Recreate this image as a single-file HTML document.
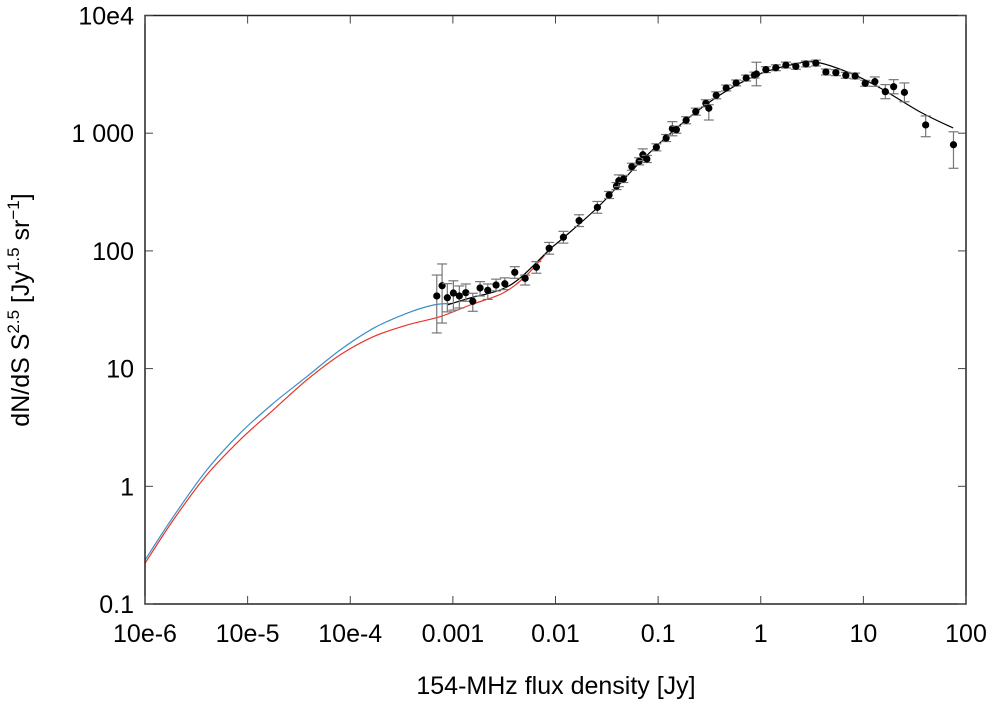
<!DOCTYPE html>
<html><head><meta charset="utf-8"><style>
html,body{margin:0;padding:0;background:#fff;}
svg{display:block;font-family:"Liberation Sans",Arial,sans-serif;}
</style></head><body>
<svg id="chart" width="993" height="703" viewBox="0 0 993 703" xmlns="http://www.w3.org/2000/svg">
<g id="curves"></g>
<g id="points"></g>
<g id="axes"></g>
<text x="556" y="694" font-size="25" text-anchor="middle">154-MHz flux density [Jy]</text>
<text transform="translate(29,310) rotate(-90)" font-size="25" text-anchor="middle">dN/dS S<tspan font-size="17" dy="-10">2.5</tspan><tspan dy="10"> [Jy</tspan><tspan font-size="17" dy="-10">1.5</tspan><tspan dy="10"> sr</tspan><tspan font-size="17" dy="-10">−1</tspan><tspan dy="10">]</tspan></text>
</svg>
<script>
// x values are log10(flux density / Jy), y values are log10(dN/dS S^2.5)
const xTickVals = [-6,-5,-4,-3,-2,-1,0,1,2];
const xTickLabels = ["10e-6","10e-5","10e-4","0.001","0.01","0.1","1","10","100"];
const yTickVals = [-1,0,1,2,3,4];
const yTickLabels = ["0.1","1","10","100","1 000","10e4"];

const blueX = [-6.000,-5.724,-5.399,-5.074,-4.750,-4.424,-4.099,-3.775,-3.449,-3.190,-3.011];
const blueY = [-0.626,-0.258,0.138,0.450,0.705,0.931,1.158,1.342,1.470,1.540,1.555];
const redX = [-6.000,-5.724,-5.399,-5.074,-4.750,-4.424,-4.099,-3.775,-3.449,-3.125,-2.832,-2.511,-2.280,-2.062];
const redY = [-0.654,-0.286,0.096,0.394,0.649,0.903,1.116,1.271,1.370,1.441,1.540,1.642,1.795,2.008];
const fitX = [-3.057,-2.832,-2.540,-2.345,-2.062,-1.925,-1.565,-1.175,-0.786,-0.396,-0.035,0.286,0.530,0.871,1.164,1.554,1.875];
const fitY = [1.540,1.600,1.668,1.770,2.008,2.110,2.390,2.755,3.070,3.325,3.494,3.579,3.605,3.511,3.384,3.180,3.044];

const ptX = [-3.157,-3.105,-3.054,-2.995,-2.937,-2.874,-2.806,-2.735,-2.660,-2.579,-2.494,-2.397,-2.296,-2.186,-2.062,-1.923,-1.770,-1.592,-1.478,-1.406,-1.383,-1.338,-1.256,-1.185,-1.149,-1.110,-1.017,-0.922,-0.861,-0.822,-0.727,-0.633,-0.535,-0.506,-0.434,-0.337,-0.240,-0.142,-0.061,-0.042,0.050,0.147,0.245,0.342,0.440,0.537,0.635,0.732,0.829,0.920,1.018,1.112,1.214,1.295,1.400,1.607,1.878];
const ptY = [1.617,1.704,1.602,1.642,1.617,1.645,1.572,1.685,1.665,1.710,1.721,1.818,1.767,1.861,2.022,2.116,2.257,2.370,2.475,2.551,2.596,2.611,2.715,2.761,2.817,2.781,2.880,2.959,3.038,3.030,3.110,3.183,3.254,3.212,3.322,3.384,3.427,3.469,3.494,3.503,3.540,3.556,3.579,3.568,3.588,3.596,3.520,3.514,3.492,3.486,3.424,3.438,3.353,3.395,3.347,3.070,2.902];
const errUp = [0.178,0.185,0.12,0.104,0.085,0.074,0.068,0.054,0.054,0.05,0.05,0.048,0.028,0.048,0.05,0.05,0.05,0.05,0.03,0.03,0.05,0.03,0.03,0.03,0.05,0.03,0.03,0.03,0.06,0.03,0.03,0.03,0.03,0.03,0.03,0.025,0.025,0.025,0.025,0.1,0.025,0.025,0.025,0.025,0.025,0.025,0.025,0.025,0.025,0.025,0.025,0.04,0.06,0.06,0.08,0.077,0.11];
const errDn = [0.314,0.317,0.12,0.145,0.102,0.073,0.085,0.068,0.077,0.05,0.05,0.051,0.057,0.051,0.05,0.05,0.05,0.05,0.03,0.03,0.05,0.03,0.03,0.03,0.05,0.03,0.03,0.03,0.06,0.03,0.03,0.03,0.03,0.1,0.03,0.025,0.025,0.025,0.025,0.1,0.025,0.025,0.025,0.025,0.025,0.025,0.025,0.025,0.025,0.025,0.025,0.04,0.06,0.06,0.08,0.1,0.2];

const L=145, R=966, T=15.5, B=604;
function sx(v){return L+(v-(-6))*(R-L)/8;}
function sy(v){return B-(v-(-1))*(B-T)/5;}
const NS="http://www.w3.org/2000/svg";
function mk(tag,attrs,parent){const e=document.createElementNS(NS,tag);for(const k in attrs)e.setAttribute(k,attrs[k]);parent.appendChild(e);return e;}

const curves=document.getElementById('curves');
function line(xs,ys,color,name){
  const P=xs.map((x,i)=>[sx(x),sy(ys[i])]);
  let d='M'+P[0][0].toFixed(1)+','+P[0][1].toFixed(1);
  for(let i=0;i<P.length-1;i++){
    const p0=P[Math.max(0,i-1)],p1=P[i],p2=P[i+1],p3=P[Math.min(P.length-1,i+2)];
    const c1=[p1[0]+(p2[0]-p0[0])/6,p1[1]+(p2[1]-p0[1])/6];
    const c2=[p2[0]-(p3[0]-p1[0])/6,p2[1]-(p3[1]-p1[1])/6];
    d+=' C'+c1[0].toFixed(1)+','+c1[1].toFixed(1)+' '+c2[0].toFixed(1)+','+c2[1].toFixed(1)+' '+p2[0].toFixed(1)+','+p2[1].toFixed(1);
  }
  const p=mk('path',{d:d,fill:'none',stroke:color,'stroke-width':1.2},curves);
  
  
}
line(blueX,blueY,'#3a8fc8','blue-model-curve');
line(redX,redY,'#e8352a','red-model-curve');
line(fitX,fitY,'#000','black-fit-curve');

const pts=document.getElementById('points');
for(let i=0;i<ptX.length;i++){
  const g=mk('g',{},pts);
  
  
  const x=sx(ptX[i]), y1=sy(ptY[i]+errUp[i]), y2=sy(ptY[i]-errDn[i]);
  mk('line',{x1:x,x2:x,y1:y1,y2:y2,stroke:'#777','stroke-width':1.2},g);
  mk('line',{x1:x-5,x2:x+5,y1:y1,y2:y1,stroke:'#777','stroke-width':1.2},g);
  mk('line',{x1:x-5,x2:x+5,y1:y2,y2:y2,stroke:'#777','stroke-width':1.2},g);
  mk('circle',{cx:x,cy:sy(ptY[i]),r:3.6,fill:'#000'},g);
}

const ax=document.getElementById('axes');
const frame=mk('rect',{x:L,y:T,width:R-L,height:B-T,fill:'none',stroke:'#222','stroke-width':1.5},ax);


xTickVals.forEach((v,i)=>{
  const x=sx(v);
  mk('line',{x1:x,x2:x,y1:B,y2:B-8,stroke:'#444','stroke-width':1},ax);
  mk('line',{x1:x,x2:x,y1:T,y2:T+8,stroke:'#444','stroke-width':1},ax);
  const t=mk('text',{x:x,y:642,'font-size':25,'text-anchor':'middle'},ax);
  t.textContent=xTickLabels[i];
  
  
});
yTickVals.forEach((v,i)=>{
  const y=sy(v);
  mk('line',{x1:L,x2:L+8,y1:y,y2:y,stroke:'#444','stroke-width':1},ax);
  mk('line',{x1:R,x2:R-8,y1:y,y2:y,stroke:'#444','stroke-width':1},ax);
  const t=mk('text',{x:134,y:y+9,'font-size':25,'text-anchor':'end'},ax);
  t.textContent=yTickLabels[i];
  
  
});
</script>
</body></html>
